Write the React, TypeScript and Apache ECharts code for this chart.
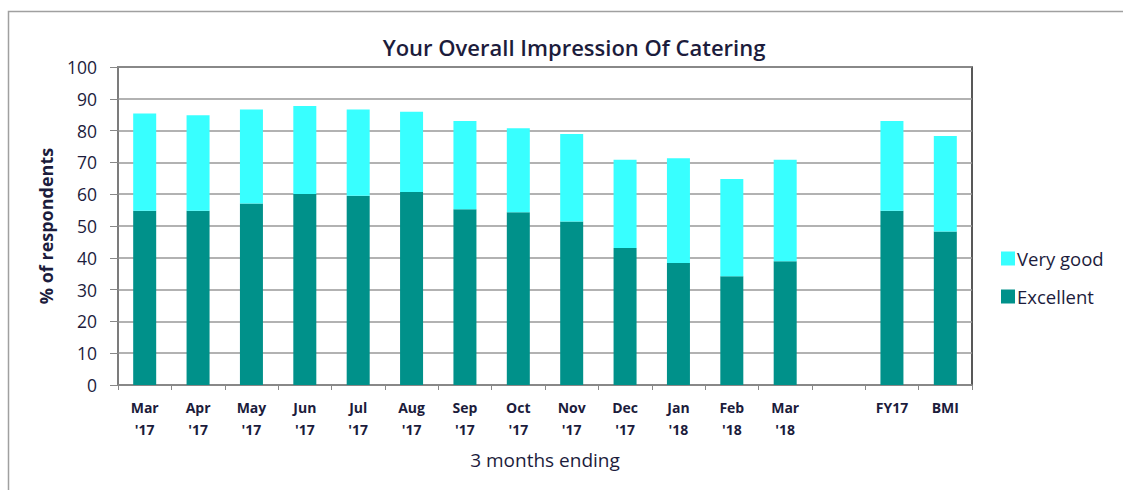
import React, { useEffect, useRef } from "react";
import * as echarts from "echarts";

const categories = ["Mar\n'17", "Apr\n'17", "May\n'17", "Jun\n'17", "Jul\n'17", "Aug\n'17", "Sep\n'17", "Oct\n'17", "Nov\n'17", "Dec\n'17", "Jan\n'18", "Feb\n'18", "Mar\n'18", "", "FY17", "BMI"];
const totals = [85.4, 84.8, 86.6, 87.7, 86.6, 85.9, 83.0, 80.7, 78.9, 70.8, 71.3, 64.8, 70.8, null, 83.0, 78.3];
const excellent = [54.8, 54.8, 57.1, 60.1, 59.5, 60.7, 55.3, 54.3, 51.4, 43.1, 38.4, 34.2, 38.9, null, 54.8, 48.3];
const veryGood = totals.map((t, i) => (t == null || excellent[i] == null ? null : +(t - (excellent[i] as number)).toFixed(1)));

const FONT = "'Open Sans', Lato, sans-serif";
const TXT = "#1c1c3c";

export default function App() {
  const ref = useRef<HTMLDivElement>(null);
  useEffect(() => {
    document.body.style.margin = "0";
    const chart = echarts.init(ref.current!, null, { renderer: "svg" });
    chart.setOption({
      animation: false,
      backgroundColor: "#ffffff",
      textStyle: { fontFamily: FONT, color: TXT },
      title: {
        text: "Your Overall Impression Of Catering",
        left: 569,
        textAlign: "center",
        top: 31,
        textStyle: { fontFamily: FONT, fontSize: 22, fontWeight: 600, color: TXT },
      },
      graphic: [
        {
          type: "rect",
          shape: { x: 8.5, y: 11.5, width: 1200, height: 600 },
          style: { fill: "none", stroke: "#a0a0a0", lineWidth: 1.5 },
          silent: true,
        },
      ],
      legend: {
        orient: "vertical",
        left: 996,
        top: 244,
        itemWidth: 14,
        itemHeight: 14,
        itemGap: 19,
        icon: "rect",
        data: ["Very good", "Excellent"],
        textStyle: { fontFamily: FONT, fontSize: 18.5, color: TXT, padding: [0, 0, 0, -3] },
      },
      grid: {
        left: 118,
        right: 151,
        top: 67,
        bottom: 105,
        show: true,
        borderColor: "#222",
        borderWidth: 1.5,
        backgroundColor: "transparent",
      },
      xAxis: {
        type: "category",
        data: categories,
        name: "3 months ending",
        nameLocation: "middle",
        nameGap: 65,
        nameTextStyle: { fontFamily: FONT, fontSize: 19, color: TXT },
        axisLine: { lineStyle: { color: "#888", width: 1.5 } },
        axisTick: { show: true, length: 5, lineStyle: { color: "#888" } },
        axisLabel: {
          fontFamily: FONT,
          fontSize: 14,
          fontWeight: "bold",
          color: TXT,
          lineHeight: 22,
          margin: 11,
          interval: 0,
        },
      },
      yAxis: {
        type: "value",
        min: 0,
        max: 100,
        interval: 10,
        name: "% of respondents",
        nameLocation: "middle",
        nameGap: 63,
        nameTextStyle: { fontFamily: FONT, fontSize: 18, fontWeight: "bold", color: TXT },
        axisLine: { show: true, lineStyle: { color: "#888", width: 1.5 } },
        axisTick: { show: true, length: 8, lineStyle: { color: "#888" } },
        axisLabel: { fontFamily: FONT, fontSize: 17.5, color: TXT, margin: 21 },
        splitLine: { show: true, lineStyle: { color: "#999", width: 1.5 } },
      },
      series: [
        {
          name: "Excellent",
          type: "bar",
          stack: "a",
          barWidth: 23,
          data: excellent,
          itemStyle: { color: "#00918A" },
        },
        {
          name: "Very good",
          type: "bar",
          stack: "a",
          barWidth: 23,
          data: veryGood,
          itemStyle: { color: "#38FFFF" },
        },
      ],
    });
    return () => chart.dispose();
  }, []);
  return <div ref={ref} style={{ width: 1123, height: 490 }} />;
}
